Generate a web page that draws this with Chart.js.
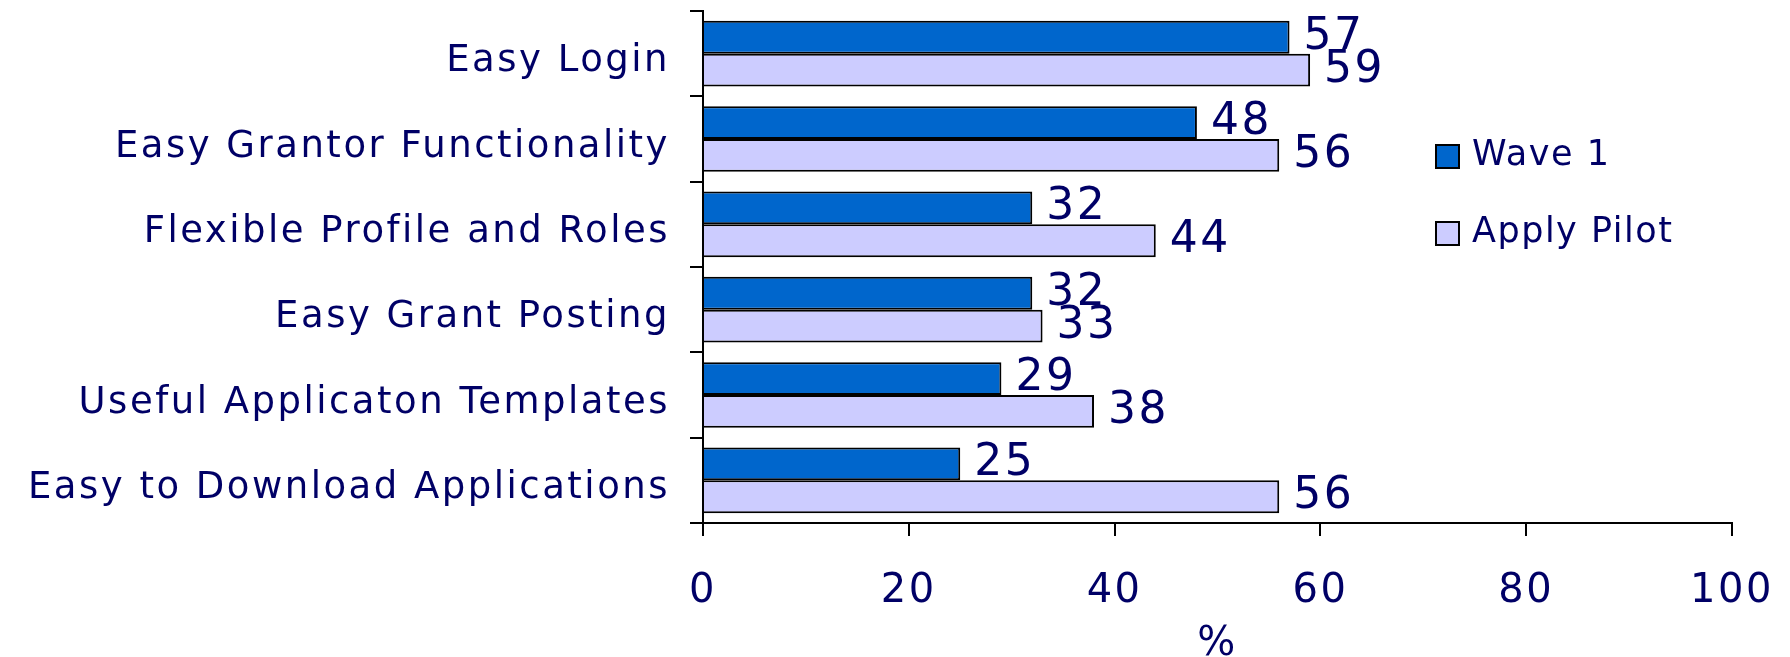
<!DOCTYPE html>
<html>
<head>
<meta charset="utf-8">
<script src="https://cdn.jsdelivr.net/npm/chart.js@4.4.1/dist/chart.umd.min.js"></script>
<style>
body { margin: 0; background: #fff; }
#wrap { width: 1790px; height: 657px; }
</style>
</head>
<body>
<div id="wrap"><canvas id="barChart"></canvas></div>
<script>
// data
var categories = ['Easy Login', 'Easy Grantor Functionality', 'Flexible Profile and Roles',
    'Easy Grant Posting', 'Useful Applicaton Templates', 'Easy to Download Applications'];
var wave1 = [57, 48, 32, 32, 29, 25];
var applyPilot = [59, 56, 44, 33, 38, 56];
var seriesNames = ['Wave 1', 'Apply Pilot'];
var xTicks = [0, 20, 40, 60, 80, 100];

var navy = '#000066';
var fontFamily = '"DejaVu Sans", Verdana, sans-serif';

// letter spacing, the original text is tracked out a bit
var spacing = {
    id: 'spacing',
    beforeLayout: function (chart) { chart.ctx.letterSpacing = '2.5px'; },
    beforeDraw: function (chart) { chart.ctx.letterSpacing = '2.5px'; }
};

// numbers after each bar
var valueLabels = {
    id: 'valueLabels',
    afterDatasetsDraw: function (chart) {
        var ctx = chart.ctx;
        ctx.save();
        ctx.letterSpacing = '2.5px';
        ctx.font = '44px ' + fontFamily;
        ctx.fillStyle = navy;
        ctx.textAlign = 'left';
        ctx.textBaseline = 'middle';
        chart.data.datasets.forEach(function (ds, i) {
            chart.getDatasetMeta(i).data.forEach(function (bar, j) {
                ctx.fillText(ds.data[j], bar.x + 14, bar.y);
            });
        });
        ctx.restore();
    }
};

// legend on the right, inside the plot area
var sideLegend = {
    id: 'sideLegend',
    afterDraw: function (chart) {
        var ctx = chart.ctx;
        ctx.save();
        ctx.letterSpacing = '1.5px';
        ctx.font = '35px ' + fontFamily;
        ctx.textBaseline = 'middle';
        chart.data.datasets.forEach(function (ds, i) {
            var y = 156 + i * 77;
            ctx.fillStyle = ds.backgroundColor;
            ctx.fillRect(1436, y - 11, 23, 23);
            ctx.lineWidth = 2;
            ctx.strokeStyle = '#000';
            ctx.strokeRect(1436, y - 11, 23, 23);
            ctx.fillStyle = navy;
            ctx.fillText(ds.label, 1472, y);
        });
        ctx.restore();
    }
};

var barChart = new Chart(document.getElementById('barChart'), {
    type: 'bar',
    data: {
        labels: categories,
        datasets: [{
            label: seriesNames[0],
            data: wave1,
            backgroundColor: '#0066CC',
            borderColor: '#000',
            borderWidth: 2
        }, {
            label: seriesNames[1],
            data: applyPilot,
            backgroundColor: '#CCCCFF',
            borderColor: '#000',
            borderWidth: 2
        }]
    },
    options: {
        indexAxis: 'y',
        responsive: true,
        maintainAspectRatio: false,
        animation: false,
        datasets: {
            bar: { categoryPercentage: 0.77, barPercentage: 1 }
        },
        layout: { padding: { top: 11, right: 58, bottom: 0, left: 0 } },
        plugins: {
            legend: { display: false },
            tooltip: { enabled: false }
        },
        scales: {
            x: {
                min: 0,
                max: 100,
                afterBuildTicks: function (scale) {
                    scale.ticks = xTicks.map(function (v) { return { value: v }; });
                },
                afterFit: function (scale) {
                    scale.height = 134;
                    scale.paddingLeft = 0;
                    scale.paddingRight = 0;
                },
                grid: { drawOnChartArea: false, tickLength: 13, color: '#000', lineWidth: 2 },
                border: { display: true, color: '#000', width: 2 },
                ticks: { color: navy, font: { family: fontFamily, size: 40 }, padding: 32, maxRotation: 0 },
                title: {
                    display: true,
                    text: '%',
                    color: navy,
                    font: { family: fontFamily, size: 40, lineHeight: 0.6 },
                    padding: 0
                }
            },
            y: {
                afterFit: function (scale) {
                    scale.width = 703;
                    scale.paddingTop = 0;
                    scale.paddingBottom = 0;
                },
                grid: { drawOnChartArea: false, tickLength: 13, color: '#000', lineWidth: 2 },
                border: { display: true, color: '#000', width: 2 },
                ticks: { color: navy, font: { family: fontFamily, size: 37 }, padding: 20, labelOffset: 8 }
            }
        }
    },
    plugins: [spacing, valueLabels, sideLegend]
});
</script>
</body>
</html>
